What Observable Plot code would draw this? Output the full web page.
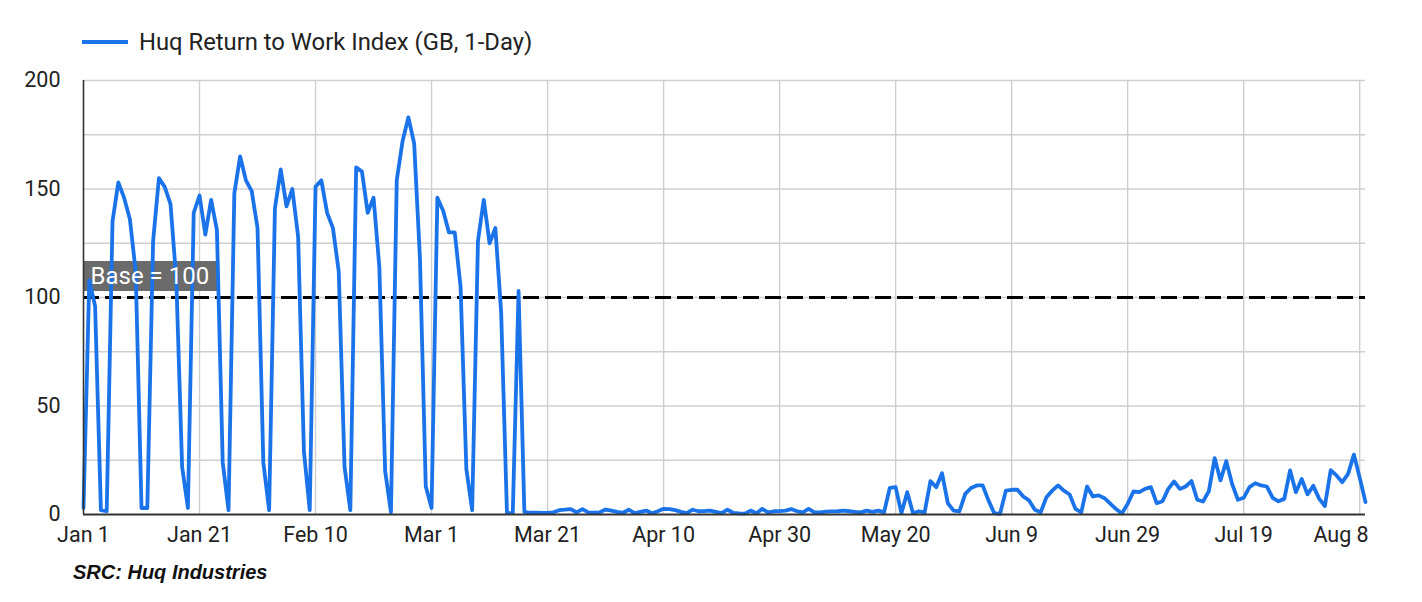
<!DOCTYPE html>
<html><head><meta charset="utf-8">
<script src="https://cdn.jsdelivr.net/npm/d3@7"></script>
<script src="https://cdn.jsdelivr.net/npm/@observablehq/plot@0.6"></script>
<style>
body{margin:0;background:#fff;font-family:Roboto,sans-serif;position:relative;width:1422px;height:602px;overflow:hidden;}
#legend{height:62px;position:relative;}
#legend .sw{position:absolute;left:82px;top:40px;width:46px;height:4px;background:#1a73e8;}
#legend .tx{position:absolute;left:139px;top:28px;font-size:23.8px;line-height:28px;color:#222;white-space:nowrap;}
#chart{height:496px;}
#caption{position:absolute;left:73px;top:560px;font-family:"Liberation Sans",Arial,sans-serif;font-weight:bold;font-style:italic;font-size:20px;line-height:24px;color:#111;}
</style></head><body>
<div id="legend"><div class="sw"></div><div class="tx"></div></div>
<div id="chart"></div>
<div id="caption"></div>
<script>
const seriesName = "Huq Return to Work Index (GB, 1-Day)";
const sourceText = "SRC: Huq Industries";
const startDate = "2020-01-01";
// daily index values from Jan 1, 2020
const values = [
3,108,96,2,1.5,135,153,146,136,112,
3,3,126,155,151,143,108,22,3,139,
147,129,145,131,24,2,148,165,154,149,
132,24,2,141,159,142,150,128,29,2,
151,154,139,132,112,22,2,160,158,139,
146,114,20,1,154,172,183,171,118,13,
3,146,140,130,130,105,21,2,126,145,
125,132,93,0.6,0.6,103,1.2,0.8,0.8,0.7,
0.8,1,2,2.2,2.5,1,2.5,1.0,0.8,1.0,
2.3,1.8,1.2,0.8,2.2,0.6,1.2,1.8,0.6,1.5,
2.6,2.5,2.0,1.2,0.6,2.2,1.5,1.6,1.8,1.2,
0.6,2.2,0.8,0.5,0.4,1.8,0.6,2.6,1.0,1.5,
1.6,1.8,2.5,1.5,1.0,2.6,1.0,1.0,1.3,1.4,
1.5,1.8,1.5,1.2,1.0,1.8,1.2,1.8,1.0,12.3,
12.6,0.6,10.3,0.6,1.5,1,15.4,12.6,19,5.2,
1.8,1.5,9.5,12.2,13.4,13.4,6.5,0.6,0.3,11,
11.4,11.4,8.3,6.5,2.2,1,8,11,13.4,11,
9.2,2.6,1,12.9,8.3,8.8,7.5,5,2.5,0.5,
4.9,10.6,10.3,11.8,12.6,5.2,6.1,11.8,15.2,11.8,
12.9,15.4,6.8,6,10.8,26,15.7,24.6,14.1,6.8,
7.7,12.6,14.4,13.4,12.9,7.7,6.1,7.2,20.3,10.3,
16.4,9.3,13.2,7.3,3.9,20.4,18,14.9,18.7,27.6,
17,5.7
];
const xTickLabels = ["2020-01-01","2020-01-21","2020-02-10","2020-03-01","2020-03-21","2020-04-10","2020-04-30","2020-05-20","2020-06-09","2020-06-29","2020-07-19","2020-08-08"];
const yTickLabels = [0, 50, 100, 150, 200];
const yGridValues = [25, 50, 75, 100, 125, 150, 175, 200];
const baseValue = 100;
const baseLabel = "Base = 100";

document.querySelector("#legend .tx").textContent = seriesName;
document.getElementById("caption").textContent = sourceText;

const parse = d3.utcParse("%Y-%m-%d");
const t0 = parse(startDate);
const data = values.map((v, i) => ({date: d3.utcDay.offset(t0, i), value: v}));
const xTicks = xTickLabels.map(parse);
const fmt = d3.utcFormat("%b %-d");
const lastDate = data[data.length - 1].date;

const chart = Plot.plot({
  width: 1422,
  height: 496,
  marginLeft: 83,
  marginRight: 57,
  marginTop: 18,
  marginBottom: 44,
  style: {fontFamily: "Roboto, sans-serif", background: "#fff"},
  x: {type: "utc", domain: [t0, lastDate], axis: null},
  y: {domain: [0, 200], axis: null},
  marks: [
    Plot.ruleY(yGridValues, {stroke: "#cfcfcf", strokeWidth: 1.4}),
    Plot.ruleX(xTicks.slice(1), {stroke: "#cfcfcf", strokeWidth: 1.4}),
    Plot.ruleY([baseValue], {stroke: "#000", strokeWidth: 3, strokeDasharray: "16,6"}),
    Plot.lineY(data, {x: "date", y: "value", stroke: "#1a73e8", strokeWidth: 3.8, strokeLinejoin: "round"}),
    Plot.ruleX([xTicks[0]], {stroke: "#333", strokeWidth: 1.6}),
    Plot.ruleY([0], {stroke: "#333", strokeWidth: 2}),
    Plot.text(xTicks.slice(0, -1), {x: d => d, frameAnchor: "bottom", dy: 27, text: d => fmt(d), fontSize: 21.5, fill: "#222"}),
    Plot.text(xTicks.slice(-1), {x: d => d, frameAnchor: "bottom", dy: 27, dx: 9, textAnchor: "end", text: d => fmt(d), fontSize: 21.5, fill: "#222"}),
    Plot.text(yTickLabels, {y: d => d, frameAnchor: "left", dx: -23, textAnchor: "end", text: d => String(d), fontSize: 21.5, fill: "#222"}),
    Plot.text([{date: t0, value: baseValue, label: baseLabel}], {x: "date", y: "value", text: "label", dx: 7, dy: -21, textAnchor: "start", fontSize: 24, fill: "#fff"})
  ]
});
document.getElementById("chart").appendChild(chart);

// background box behind the base annotation
const texts = Array.from(chart.querySelectorAll("text")).filter(t => t.textContent === baseLabel);
if (texts.length) {
  const t = texts[0];
  const sr = chart.getBoundingClientRect();
  const tr = t.getBoundingClientRect();
  const x0 = chart.scale("x").apply(t0);
  const yc = chart.scale("y").apply(baseValue) - 21;
  const right = tr.right - sr.left + 10;
  const rect = document.createElementNS("http://www.w3.org/2000/svg", "rect");
  rect.setAttribute("x", x0);
  rect.setAttribute("y", yc - 15);
  rect.setAttribute("width", Math.max(10, right - x0));
  rect.setAttribute("height", 30);
  rect.setAttribute("fill", "#6b6b6b");
  const lineG = chart.querySelector('g[aria-label="line"]');
  if (lineG) lineG.parentNode.insertBefore(rect, lineG); else chart.insertBefore(rect, chart.firstChild);
}
</script>
</body></html>
